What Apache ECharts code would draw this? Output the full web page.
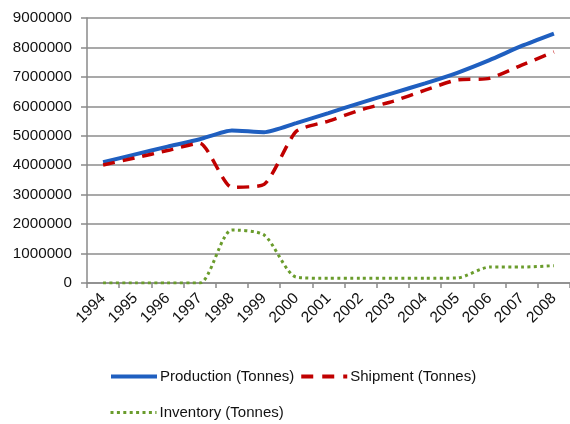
<!DOCTYPE html>
<html>
<head>
<meta charset="utf-8">
<script src="https://cdn.jsdelivr.net/npm/echarts@6/dist/echarts.min.js"></script>
<style>
  html, body { margin: 0; padding: 0; background: #ffffff; }
  #chart { width: 570px; height: 424px; }
</style>
</head>
<body>
<div id="chart"></div>
<script>
// Years on the category axis
const years = ['1994', '1995', '1996', '1997', '1998', '1999', '2000', '2001',
               '2002', '2003', '2004', '2005', '2006', '2007', '2008'];

// Tonnes per year
const production = [4100000, 4370000, 4630000, 4880000, 5180000, 5120000, 5430000, 5770000,
                    6120000, 6450000, 6780000, 7140000, 7570000, 8050000, 8470000];
const shipment   = [4010000, 4250000, 4500000, 4750000, 3250000, 3350000, 5150000, 5500000,
                    5880000, 6170000, 6550000, 6900000, 6950000, 7400000, 7850000];
const inventory  = [0, 0, 0, 0, 1800000, 1630000, 200000, 160000,
                    160000, 160000, 160000, 170000, 540000, 540000, 590000];

const FONT = '"Liberation Sans", Arial, sans-serif';
const TEXT = '#111111';

const BLUE = '#1f5fc0', RED = '#c00000', GREEN = '#6a9c2c';
const prodLine = { color: BLUE, width: 4 };
const shipLine = { color: RED, width: 3.5, type: [12, 8] };
const invLine  = { color: GREEN, width: 3, type: [3, 3.4], cap: 'butt' };

const legendCommon = {
  left: 104, itemWidth: 46, itemHeight: 14, itemGap: 5,
  itemStyle: { opacity: 0 },
  textStyle: { fontFamily: FONT, fontSize: 15, color: TEXT, padding: [0, 0, 0, -2] }
};

const chart = echarts.init(document.getElementById('chart'));
chart.setOption({
  animation: false,
  backgroundColor: '#ffffff',
  grid: { left: 87, right: -7, top: 18, bottom: 141, containLabel: false },
  legend: [
    Object.assign({
      data: [
        { name: 'Production (Tonnes)', lineStyle: prodLine },
        { name: 'Shipment (Tonnes)', lineStyle: { color: RED, width: 4, type: [12, 9] } }
      ],
      top: 364
    }, legendCommon),
    Object.assign({
      data: [{ name: 'Inventory (Tonnes)', lineStyle: { color: GREEN, width: 3, type: [3, 3.4] } }],
      top: 400
    }, legendCommon)
  ],
  xAxis: {
    type: 'category',
    data: years,
    boundaryGap: true,
    axisLine: { lineStyle: { color: '#8a8a8a', width: 1.5 } },
    axisTick: { show: true, length: 5, lineStyle: { color: '#8a8a8a', width: 1.5 } },
    axisLabel: {
      rotate: 45, margin: 13, interval: 0,
      fontFamily: FONT, fontSize: 15.5, color: TEXT
    },
    splitLine: { show: false }
  },
  yAxis: {
    type: 'value',
    min: 0, max: 9000000, interval: 1000000,
    axisLine: { show: true, lineStyle: { color: '#8a8a8a', width: 1.5 } },
    axisTick: { show: true, length: 6, lineStyle: { color: '#8a8a8a', width: 1.5 } },
    axisLabel: {
      margin: 15, fontFamily: FONT, fontSize: 15.2, color: TEXT,
      formatter: v => String(v)
    },
    splitLine: { show: true, lineStyle: { color: '#8c8c8c', width: 1.5 } }
  },
  series: [
    {
      name: 'Production (Tonnes)', type: 'line', data: production,
      smooth: 0.2, symbol: 'none', z: 3,
      itemStyle: { color: BLUE }, lineStyle: prodLine
    },
    {
      name: 'Shipment (Tonnes)', type: 'line', data: shipment,
      smooth: 0.2, symbol: 'none', z: 4,
      itemStyle: { color: RED }, lineStyle: shipLine
    },
    {
      name: 'Inventory (Tonnes)', type: 'line', data: inventory,
      smooth: 0.25, symbol: 'none', z: 2,
      itemStyle: { color: GREEN }, lineStyle: invLine
    }
  ]
});
</script>
</body>
</html>
